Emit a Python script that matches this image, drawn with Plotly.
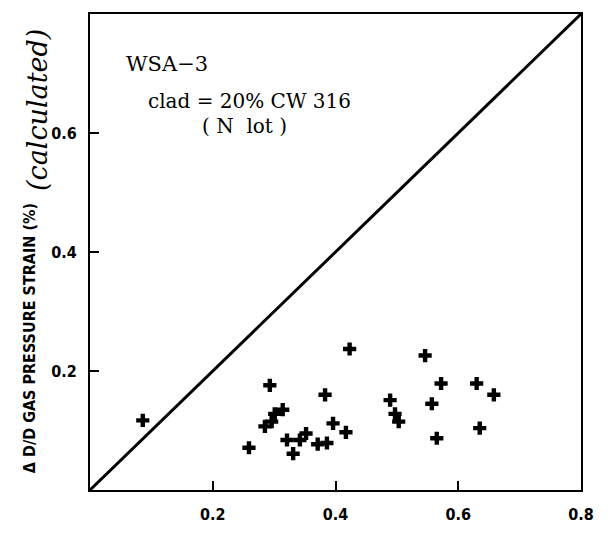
import plotly.graph_objects as go

# measured vs calculated gas-pressure strain (data units, %)
x_meas = [0.086, 0.259, 0.293, 0.285, 0.296, 0.301, 0.314, 0.321, 0.331, 0.342,
          0.352, 0.371, 0.386, 0.383, 0.396, 0.417, 0.423, 0.489, 0.497, 0.503,
          0.546, 0.557, 0.565, 0.572, 0.630, 0.635, 0.658]
y_calc = [0.117, 0.071, 0.176, 0.107, 0.115, 0.128, 0.135, 0.084, 0.061, 0.084,
          0.095, 0.077, 0.079, 0.160, 0.112, 0.097, 0.237, 0.151, 0.128, 0.115,
          0.226, 0.145, 0.087, 0.179, 0.179, 0.104, 0.160]

diag_x = [0.0, 0.8]
diag_y = [0.0, 0.8]

x_ticks = [0.2, 0.4, 0.6, 0.8]
y_ticks = [0.2, 0.4, 0.6]

BOLD = "DejaVu Sans Condensed, DejaVu Sans, sans-serif"
SERIF = "DejaVu Serif, Liberation Serif, serif"

fig = go.Figure()
fig.add_trace(go.Scatter(x=diag_x, y=diag_y, mode="lines",
                         line=dict(color="black", width=3), showlegend=False,
                         hoverinfo="skip"))
fig.add_trace(go.Scatter(x=x_meas, y=y_calc, mode="markers",
                         marker=dict(symbol="cross", size=11, color="black",
                                     line=dict(width=0)),
                         showlegend=False))

fig.update_layout(
    width=612, height=536,
    margin=dict(l=90, r=31, t=14, b=36),
    paper_bgcolor="white", plot_bgcolor="white",
    xaxis=dict(range=[0, 0.8], tickvals=x_ticks, ticktext=[f"{v:.1f}" for v in x_ticks],
               ticks="inside", ticklen=9, tickwidth=2, tickcolor="black",
               showline=True, linecolor="black", linewidth=2, mirror=True,
               showgrid=False, zeroline=False, ticklabelstandoff=9,
               tickfont=dict(family=BOLD, size=16, color="black", weight="bold")),
    yaxis=dict(range=[0, 0.8], tickvals=y_ticks, ticktext=[f"{v:.1f}" for v in y_ticks],
               ticks="inside", ticklen=9, tickwidth=2, tickcolor="black",
               showline=True, linecolor="black", linewidth=2, mirror=True,
               showgrid=False, zeroline=False, ticklabelstandoff=8,
               tickfont=dict(family=BOLD, size=16, color="black", weight="bold")),
)

# y-axis title: bold part + script-like part
fig.add_annotation(text="Δ D/D GAS PRESSURE STRAIN (%)", xref="paper", yref="paper",
                   x=(29 - 90) / 491, y=(500 - 345) / 486, textangle=-90,
                   showarrow=False, xanchor="center", yanchor="middle",
                   font=dict(family=BOLD, size=16, color="black", weight="bold"))
fig.add_annotation(text="(calculated)", xref="paper", yref="paper",
                   x=(38 - 90) / 491, y=(500 - 112) / 486, textangle=-90,
                   showarrow=False, xanchor="center", yanchor="middle",
                   font=dict(family=SERIF, size=27, color="black", style="italic"))

# in-plot labels
fig.add_annotation(text="WSA−3", xref="paper", yref="paper",
                   x=(124 - 90) / 491, y=(500 - 65) / 486, showarrow=False,
                   xanchor="left", yanchor="middle",
                   font=dict(family=SERIF, size=21, color="black"))
fig.add_annotation(text="clad = 20% CW 316", xref="paper", yref="paper",
                   x=(146 - 90) / 491, y=(500 - 103) / 486, showarrow=False,
                   xanchor="left", yanchor="middle",
                   font=dict(family=SERIF, size=20, color="black"))
fig.add_annotation(text="( N  lot )", xref="paper", yref="paper",
                   x=(200 - 90) / 491, y=(500 - 128) / 486, showarrow=False,
                   xanchor="left", yanchor="middle",
                   font=dict(family=SERIF, size=20, color="black"))

fig.write_html("out.html")
